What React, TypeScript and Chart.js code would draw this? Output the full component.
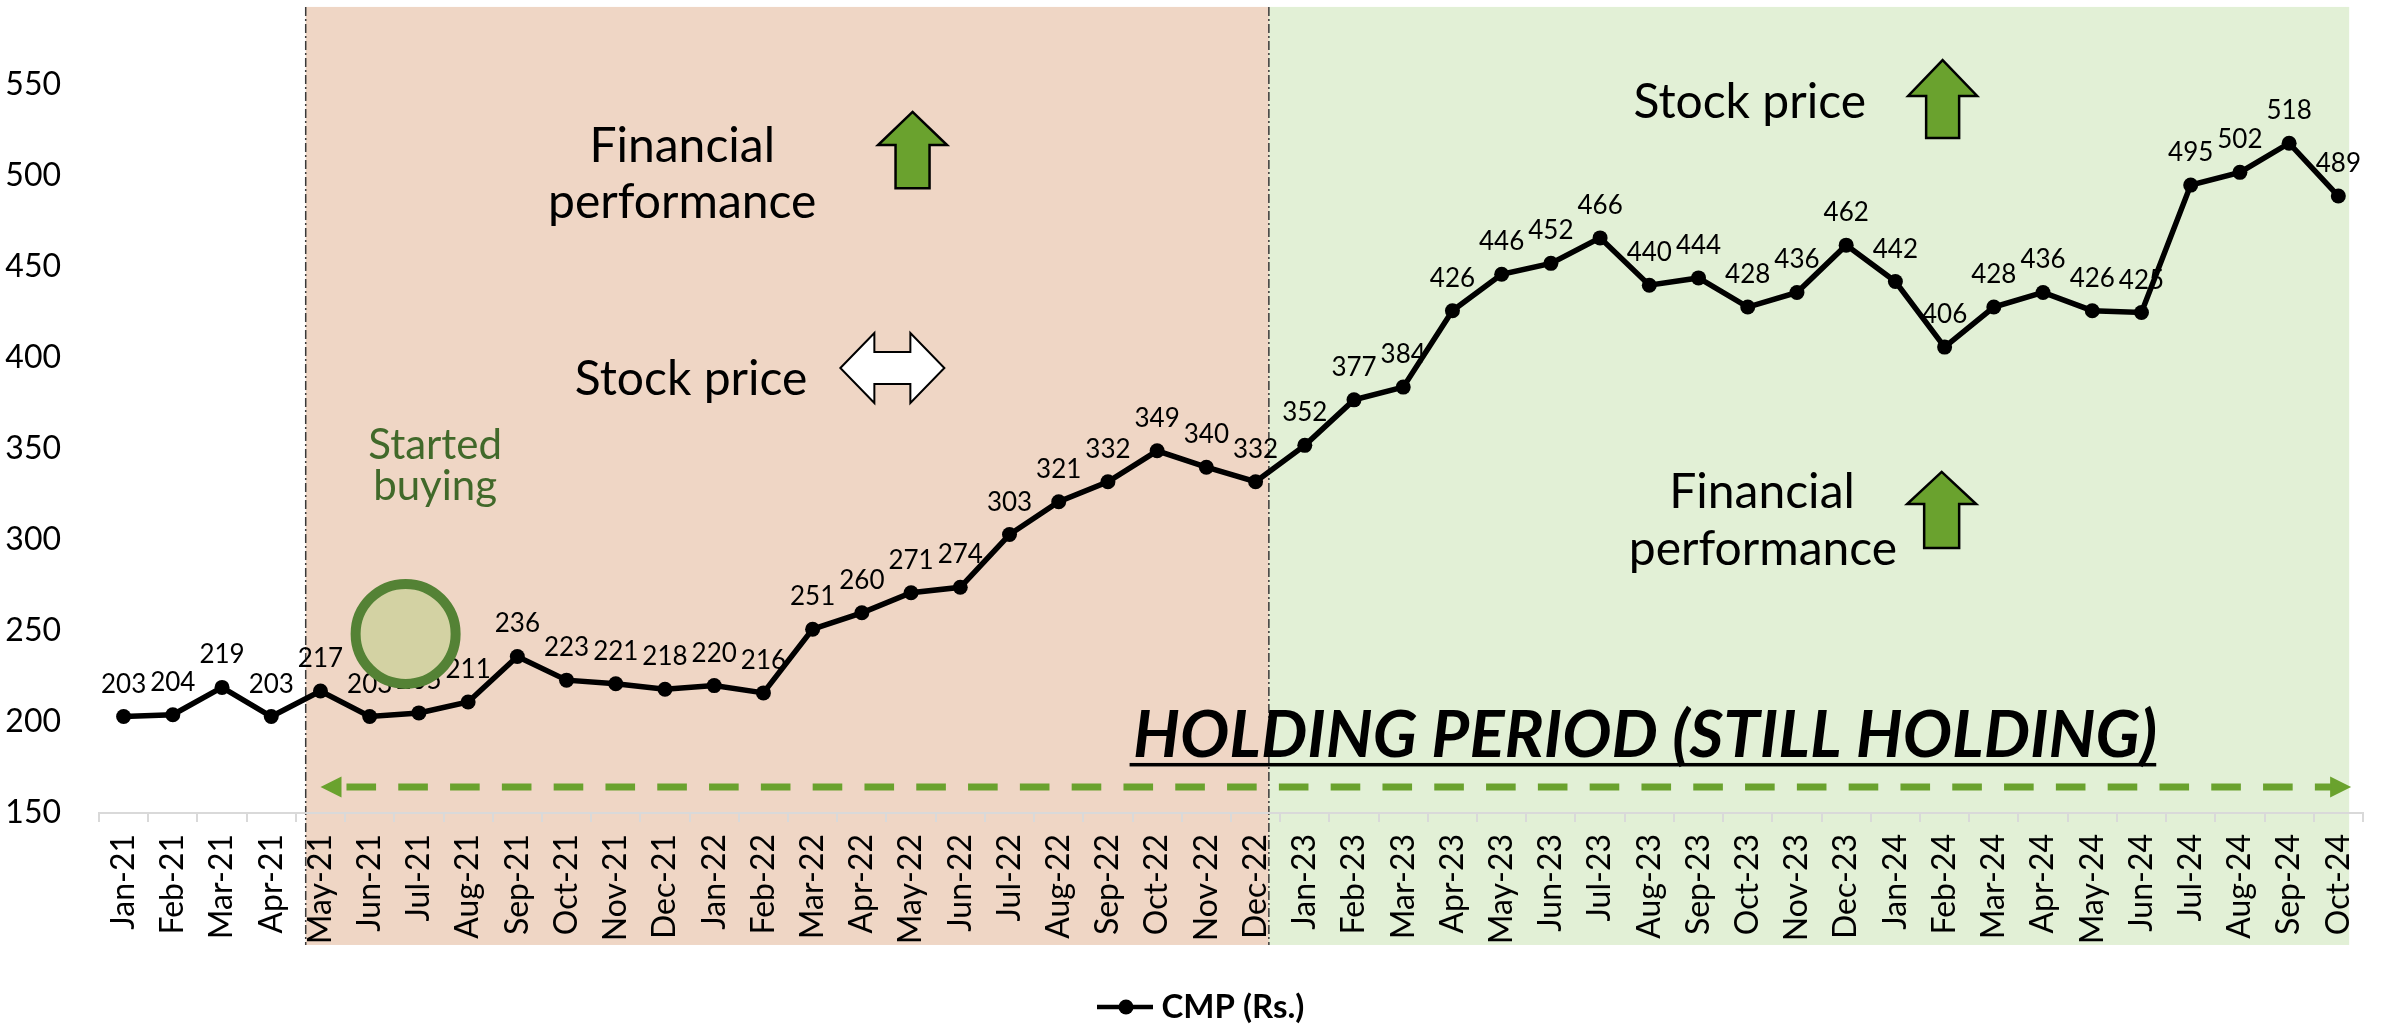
import { useEffect, useRef } from "react";
import { Chart, registerables } from "chart.js";

Chart.register(...registerables);

const months = [
  "Jan-21", "Feb-21", "Mar-21", "Apr-21", "May-21", "Jun-21", "Jul-21", "Aug-21", "Sep-21", "Oct-21", "Nov-21", "Dec-21",
  "Jan-22", "Feb-22", "Mar-22", "Apr-22", "May-22", "Jun-22", "Jul-22", "Aug-22", "Sep-22", "Oct-22", "Nov-22", "Dec-22",
  "Jan-23", "Feb-23", "Mar-23", "Apr-23", "May-23", "Jun-23", "Jul-23", "Aug-23", "Sep-23", "Oct-23", "Nov-23", "Dec-23",
  "Jan-24", "Feb-24", "Mar-24", "Apr-24", "May-24", "Jun-24", "Jul-24", "Aug-24", "Sep-24", "Oct-24",
];

const cmp = [
  203, 204, 219, 203, 217, 203, 205, 211, 236, 223, 221, 218,
  220, 216, 251, 260, 271, 274, 303, 321, 332, 349, 340, 332,
  352, 377, 384, 426, 446, 452, 466, 440, 444, 428, 436, 462,
  442, 406, 428, 436, 426, 425, 495, 502, 518, 489,
];

const seriesLabel = "CMP (Rs.)";
const yMin = 150;
const yMax = 550;
const yStep = 50;

const holdingText = "HOLDING PERIOD (STILL HOLDING)";
const textFinancial = ["Financial", "performance"];
const textStock = "Stock price";
const textStarted = ["Started", "buying"];

const TAN = "#EFD6C5";
const LIGHTGREEN = "#E2F0D6";
const ARROWGREEN = "#6AA22E";
const FONT = "Lato, 'Open Sans', sans-serif";

function upArrow(ctx: CanvasRenderingContext2D, cx: number, tipY: number, headY: number, botY: number, headHalf: number, shaftHalf: number) {
  ctx.save();
  ctx.beginPath();
  ctx.moveTo(cx, tipY);
  ctx.lineTo(cx + headHalf, headY);
  ctx.lineTo(cx + shaftHalf, headY);
  ctx.lineTo(cx + shaftHalf, botY);
  ctx.lineTo(cx - shaftHalf, botY);
  ctx.lineTo(cx - shaftHalf, headY);
  ctx.lineTo(cx - headHalf, headY);
  ctx.closePath();
  ctx.fillStyle = ARROWGREEN;
  ctx.fill();
  ctx.lineWidth = 2.5;
  ctx.strokeStyle = "#000";
  ctx.lineJoin = "miter";
  ctx.stroke();
  ctx.restore();
}

function doubleArrow(ctx: CanvasRenderingContext2D, cx: number, cy: number, halfW: number, headLen: number, headHalf: number, shaftHalf: number) {
  const x0 = cx - halfW;
  const x1 = cx + halfW;
  ctx.save();
  ctx.beginPath();
  ctx.moveTo(x0, cy);
  ctx.lineTo(x0 + headLen, cy - headHalf);
  ctx.lineTo(x0 + headLen, cy - shaftHalf);
  ctx.lineTo(x1 - headLen, cy - shaftHalf);
  ctx.lineTo(x1 - headLen, cy - headHalf);
  ctx.lineTo(x1, cy);
  ctx.lineTo(x1 - headLen, cy + headHalf);
  ctx.lineTo(x1 - headLen, cy + shaftHalf);
  ctx.lineTo(x0 + headLen, cy + shaftHalf);
  ctx.lineTo(x0 + headLen, cy + headHalf);
  ctx.closePath();
  ctx.fillStyle = "#fff";
  ctx.fill();
  ctx.lineWidth = 2;
  ctx.strokeStyle = "#000";
  ctx.stroke();
  ctx.restore();
}

const annotPlugin = {
  id: "annot",
  afterLayout(chart: any) {
    const lg = chart.legend;
    if (!lg) return;
    const lw = lg.lineWidths && lg.lineWidths.length ? lg.lineWidths[0] : 0;
    const curLeft = (lg.left + lg.right - lw) / 2;
    const dx = 1105 - curLeft;
    const dy = 1012 - (lg.top + lg.height / 2);
    lg.left += dx;
    lg.right += dx;
    lg.top += dy;
    lg.bottom += dy;
  },
  beforeDraw(chart: any) {
    const ctx: CanvasRenderingContext2D = chart.ctx;
    const X = (i: number) => chart.scales.x.getPixelForValue(i);
    const Y = (v: number) => chart.scales.y.getPixelForValue(v);
    const top = Y(592.9);
    const bottom = Y(77.5);
    const xa = X(3.7);
    const xb = X(23.27);
    const xc = X(45.22);
    ctx.save();
    ctx.fillStyle = TAN;
    ctx.fillRect(xa, top, xb - xa, bottom - top);
    ctx.fillStyle = LIGHTGREEN;
    ctx.fillRect(xb, top, xc - xb, bottom - top);
    ctx.strokeStyle = "#3a3a3a";
    ctx.lineWidth = 1.5;
    ctx.setLineDash([9, 3, 2, 3]);
    for (const x of [xa, xb]) {
      ctx.beginPath();
      ctx.moveTo(x, top);
      ctx.lineTo(x, bottom);
      ctx.stroke();
    }
    ctx.restore();
  },
  afterDatasetsDraw(chart: any) {
    const ctx: CanvasRenderingContext2D = chart.ctx;
    const meta = chart.getDatasetMeta(0);
    ctx.save();
    ctx.font = `26px ${FONT}`;
    ctx.fillStyle = "#000";
    ctx.textAlign = "center";
    ctx.textBaseline = "alphabetic";
    meta.data.forEach((pt: any, i: number) => {
      ctx.fillText(String(cmp[i]), pt.x, pt.y - 24);
    });
    ctx.restore();
  },
  afterDraw(chart: any) {
    const ctx: CanvasRenderingContext2D = chart.ctx;
    const X = (i: number) => chart.scales.x.getPixelForValue(i);
    const Y = (v: number) => chart.scales.y.getPixelForValue(v);
    ctx.save();

    // texts
    ctx.fillStyle = "#000";
    ctx.textAlign = "center";
    ctx.textBaseline = "alphabetic";
    ctx.font = `48px ${FONT}`;
    ctx.fillText(textFinancial[0], X(11.35), Y(507.7));
    ctx.fillText(textFinancial[1], X(11.35), Y(476.9));
    ctx.fillText(textStock, X(11.53), Y(379.7));
    ctx.fillText(textStock, X(33.04), Y(531.9));
    ctx.fillText(textFinancial[0], X(33.29), Y(317.6));
    ctx.fillText(textFinancial[1], X(33.31), Y(286.3));

    ctx.fillStyle = "#41692A";
    ctx.font = `42px ${FONT}`;
    ctx.fillText(textStarted[0], X(6.33), Y(344.5));
    ctx.fillText(textStarted[1], X(6.33), Y(322.0));

    // arrows
    upArrow(ctx, X(16.03), Y(535.2), Y(517.0), Y(493.3), 34.5, 17);
    upArrow(ctx, X(36.96), Y(563.7), Y(544.0), Y(520.9), 34.5, 16.5);
    upArrow(ctx, X(36.94), Y(337.4), Y(319.8), Y(295.6), 34.5, 17.5);
    doubleArrow(ctx, X(15.62), Y(394.5), 52, 34, 35, 16);

    // circle
    ctx.beginPath();
    ctx.arc(X(5.73), Y(248.4), 50, 0, Math.PI * 2);
    ctx.fillStyle = "#D3D2A3";
    ctx.fill();
    ctx.lineWidth = 10;
    ctx.strokeStyle = "#548235";
    ctx.stroke();

    // dashed double-headed arrow
    const ay = Y(164.3);
    const lx = X(4.0);
    const rx = X(45.26);
    ctx.fillStyle = ARROWGREEN;
    ctx.beginPath();
    ctx.moveTo(lx, ay);
    ctx.lineTo(lx + 21, ay - 10.5);
    ctx.lineTo(lx + 21, ay + 10.5);
    ctx.closePath();
    ctx.fill();
    ctx.beginPath();
    ctx.moveTo(rx, ay);
    ctx.lineTo(rx - 21, ay - 10.5);
    ctx.lineTo(rx - 21, ay + 10.5);
    ctx.closePath();
    ctx.fill();
    ctx.strokeStyle = ARROWGREEN;
    ctx.lineWidth = 7;
    ctx.setLineDash([29.6, 22.2]);
    ctx.lineDashOffset = -16;
    ctx.beginPath();
    ctx.moveTo(lx + 10, ay);
    ctx.lineTo(rx - 20, ay);
    ctx.stroke();
    ctx.setLineDash([]);

    // HOLDING PERIOD text
    const hx0 = X(20.51);
    const hx1 = X(41.32);
    const hy = Y(180.8);
    ctx.font = `italic bold 65px ${FONT}`;
    ctx.fillStyle = "#000";
    ctx.textAlign = "left";
    const w = ctx.measureText(holdingText).width;
    ctx.save();
    ctx.translate(hx0, hy);
    ctx.scale((hx1 - hx0) / w, 1);
    ctx.fillText(holdingText, 0, 0);
    ctx.restore();
    ctx.fillRect(X(20.44), Y(176.4) - 2, X(41.3) - X(20.44), 3.5);

    ctx.restore();
  },
};

export default function App() {
  const ref = useRef<HTMLCanvasElement>(null);
  useEffect(() => {
    const canvas = ref.current;
    if (!canvas) return;
    const marker = document.createElement("canvas");
    marker.width = 56;
    marker.height = 16;
    const mctx = marker.getContext("2d")!;
    mctx.strokeStyle = "#000";
    mctx.lineWidth = 4.5;
    mctx.beginPath();
    mctx.moveTo(0, 8);
    mctx.lineTo(56, 8);
    mctx.stroke();
    mctx.fillStyle = "#000";
    mctx.beginPath();
    mctx.arc(29, 8, 7.5, 0, Math.PI * 2);
    mctx.fill();

    const chart = new Chart(canvas, {
      type: "line",
      data: {
        labels: months,
        datasets: [
          {
            label: seriesLabel,
            data: cmp,
            borderColor: "#000",
            backgroundColor: "#000",
            borderWidth: 5.5,
            pointRadius: 7.5,
            pointBackgroundColor: "#000",
            pointBorderColor: "#000",
            pointBorderWidth: 0,
            tension: 0,
          },
        ],
      },
      options: {
        animation: false,
        responsive: false,
        maintainAspectRatio: false,
        devicePixelRatio: 1,
        layout: { padding: { top: 85, right: 24, bottom: 0, left: 0 } },
        plugins: {
          tooltip: { enabled: false },
          legend: {
            display: true,
            position: "bottom",
            labels: {
              usePointStyle: true,
              pointStyle: marker as any,
              pointStyleWidth: 40,
              padding: 0,
              color: "#000",
              font: { family: FONT, size: 33, weight: "bold" },
            },
          },
        },
        scales: {
          x: {
            type: "category",
            offset: true,
            grid: {
              offset: true,
              drawOnChartArea: false,
              drawTicks: true,
              tickLength: 9,
              color: "#D9D9D9",
              lineWidth: 2,
            },
            border: { display: true, color: "#D9D9D9", width: 2 },
            ticks: {
              autoSkip: false,
              maxRotation: 90,
              minRotation: 90,
              padding: 12,
              color: "#000",
              font: { family: FONT, size: 32 },
            },
            afterFit: (s: any) => {
              s.height = 1024 - 813 - (s.chart.legend ? s.chart.legend.height : 0);
            },
          },
          y: {
            min: yMin,
            max: yMax,
            ticks: { stepSize: yStep, padding: 30, color: "#000", font: { family: FONT, size: 32 } },
            grid: { display: false },
            border: { display: false },
            afterFit: (s: any) => {
              s.width = 99;
            },
          },
        },
      } as any,
      plugins: [annotPlugin],
    });
    return () => chart.destroy();
  }, []);
  return (
    <canvas
      ref={ref}
      width={2389}
      height={1024}
      style={{ position: "absolute", left: 0, top: 0, display: "block" }}
    />
  );
}
